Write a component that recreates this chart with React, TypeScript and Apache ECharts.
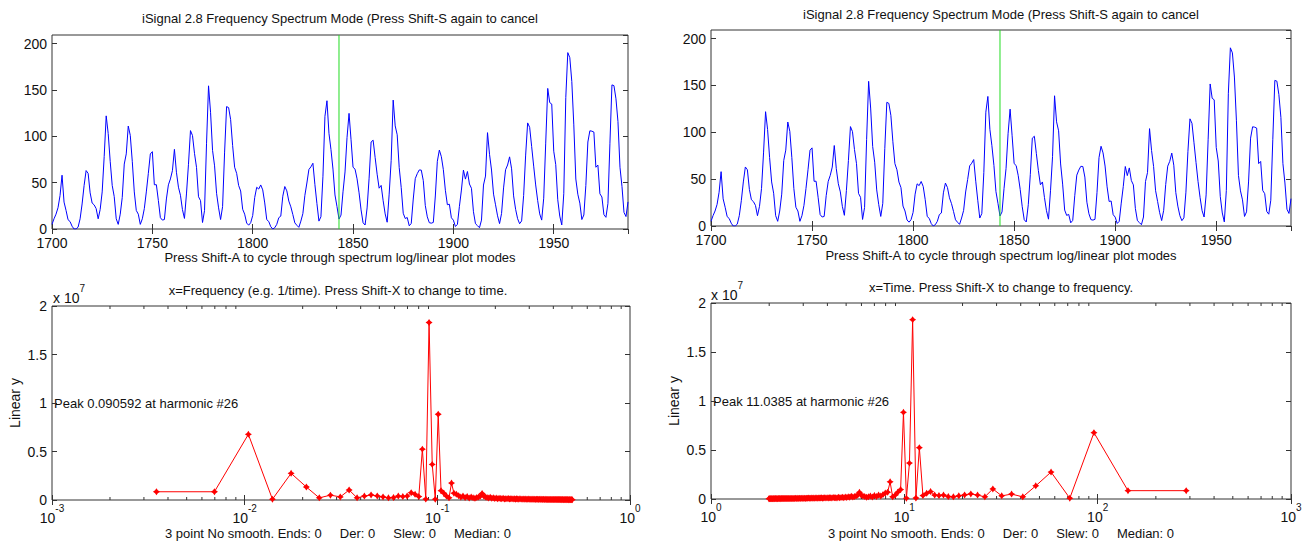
import React, { useEffect, useRef } from "react";
import * as echarts from "echarts";

// ---- data ----
const START_YEAR = 1700;
const SUNSPOTS: number[] = [
  5, 11, 16, 23, 36, 58, 29, 20, 10, 8,
  3, 0, 0, 2, 11, 27, 47, 63, 60, 39,
  28, 26, 22, 11, 21, 40, 78, 122, 103, 73,
  47, 35, 11, 5, 16, 34, 70, 81, 111, 101,
  73, 40, 20, 16, 5, 11, 22, 40, 60, 80.9,
  83.4, 47.7, 47.8, 30.7, 12.2, 9.6, 10.2, 32.4, 47.6, 54,
  62.9, 85.9, 61.2, 45.1, 36.4, 20.9, 11.4, 37.8, 69.8, 106.1,
  100.8, 81.6, 66.5, 34.8, 30.6, 7, 19.8, 92.5, 154.4, 125.9,
  84.8, 68.1, 38.5, 22.8, 10.2, 24.1, 82.9, 132, 130.9, 118.1,
  89.9, 66.6, 60, 46.9, 41, 21.3, 16, 6.4, 4.1, 6.8,
  14.5, 34, 45, 43.1, 47.5, 42.2, 28.1, 10.1, 8.1, 2.5,
  0, 1.4, 5, 12.2, 13.9, 35.4, 45.8, 41.1, 30.1, 23.9,
  15.6, 6.6, 4, 1.8, 8.5, 16.6, 36.3, 49.6, 64.2, 67,
  70.9, 47.8, 27.5, 8.5, 13.2, 56.9, 121.5, 138.3, 103.2, 85.7,
  64.6, 36.7, 24.2, 10.7, 15, 40.1, 61.5, 98.5, 124.7, 96.3,
  66.6, 64.5, 54.1, 39, 20.6, 6.7, 4.3, 22.7, 54.8, 93.8,
  95.8, 77.2, 59.1, 44, 47, 30.5, 16.3, 7.3, 37.6, 74,
  139, 111.2, 101.6, 66.2, 44.7, 17, 11.3, 12.4, 3.4, 6,
  32.3, 54.3, 59.7, 63.7, 63.5, 52.2, 25.4, 13.1, 6.8, 6.3,
  7.1, 35.6, 73, 85.1, 78, 64, 41.8, 26.2, 26.7, 12.1,
  9.5, 2.7, 5, 24.4, 42, 63.5, 53.8, 62, 48.5, 43.9,
  18.6, 5.7, 3.6, 1.4, 9.6, 47.4, 57.1, 103.9, 80.6, 63.6,
  37.6, 26.1, 14.2, 5.8, 16.7, 44.3, 63.9, 69, 77.8, 64.9,
  35.7, 21.2, 11.1, 5.7, 8.7, 36.1, 79.7, 114.4, 109.6, 88.8,
  67.8, 47.5, 30.6, 16.3, 9.6, 33.2, 92.6, 151.6, 136.3, 134.7,
  83.9, 69.4, 31.5, 13.9, 4.4, 38, 141.7, 190.2, 184.8, 159,
  112.3, 53.9, 37.5, 27.9, 10.2, 15.1, 47, 93.8, 105.9, 105.5,
  104.5, 66.6, 68.9, 38, 34.5, 15.5, 12.6, 27.5, 92.5, 155.4,
  154.6, 140.4, 115.9, 66.6, 45.9, 17.9, 13.4, 29.2,
];
const CURSOR_YEAR = 1843;
const RECORD_SPAN = 287; // years spanned by the record

// power spectrum (units of 1e7), harmonics 1..144
const POWER: number[] = [
  0.085, 0.085, 0.677, 0.008, 0.275, 0.134, 0.022, 0.05, 0.032, 0.103,
  0.022, 0.04, 0.052, 0.042, 0.032, 0.022, 0.025, 0.04, 0.035, 0.04,
  0.076, 0.058, 0.035, 0.524, 0.01, 1.83, 0.367, 0.008, 0.884, 0.096,
  0.07, 0.04, 0.022, 0.175, 0.07, 0.06, 0.045, 0.03, 0.04, 0.025,
  0.035, 0.02, 0.03, 0.022, 0.018, 0.025, 0.03, 0.04, 0.068, 0.04,
  0.03, 0.025, 0.02, 0.028, 0.018, 0.022, 0.015, 0.02, 0.012, 0.018,
  0.015, 0.012, 0.018, 0.01, 0.014, 0.012, 0.016, 0.01, 0.012, 0.014,
  0.01, 0.012, 0.009, 0.013, 0.011, 0.008, 0.012, 0.01, 0.009, 0.011,
  0.008, 0.01, 0.009, 0.007, 0.01, 0.008, 0.009, 0.007, 0.008, 0.009,
  0.007, 0.008, 0.006, 0.008, 0.007, 0.006, 0.008, 0.007, 0.006, 0.007,
  0.006, 0.007, 0.005, 0.006, 0.007, 0.005, 0.006, 0.005, 0.006, 0.005,
  0.006, 0.005, 0.004, 0.006, 0.005, 0.004, 0.005, 0.006, 0.004, 0.005,
  0.004, 0.005, 0.004, 0.005, 0.004, 0.003, 0.005, 0.004, 0.004, 0.003,
  0.004, 0.003, 0.004, 0.004, 0.003, 0.004, 0.003, 0.003, 0.004, 0.003,
  0.003, 0.004, 0.003, 0.003,
];

const FREQ_MINOR_TICKS = [
  0.002, 0.003, 0.004, 0.005, 0.006, 0.007, 0.008, 0.009,
  0.02, 0.03, 0.04, 0.05, 0.06, 0.07, 0.08, 0.09,
  0.2, 0.3, 0.4, 0.5, 0.6, 0.7, 0.8, 0.9,
];
const TIME_MINOR_TICKS = [
  2, 3, 4, 5, 6, 7, 8, 9,
  20, 30, 40, 50, 60, 70, 80, 90,
  200, 300, 400, 500, 600, 700, 800, 900,
];

const TITLE_TOP = "iSignal 2.8 Frequency Spectrum Mode (Press Shift-S again to cancel";
const XLABEL_TOP = "Press Shift-A to cycle through spectrum log/linear plot modes";
const TITLE_FREQ = "x=Frequency (e.g. 1/time). Press Shift-X to change to time.";
const TITLE_TIME = "x=Time. Press Shift-X to change to frequency.";
const XLABEL_BOTTOM = "3 point No smooth. Ends: 0     Der: 0     Slew: 0     Median: 0";
const PEAK_FREQ = "Peak 0.090592 at harmonic #26";
const PEAK_TIME = "Peak 11.0385 at harmonic #26";

const FONT = "'Liberation Sans', Arial, Helvetica, sans-serif";
const TXT = "#111";
const FRAME = "#333";

const GRIDS = [
  { left: 52, top: 35, width: 576, height: 194 },
  { left: 711, top: 30, width: 580, height: 196 },
  { left: 52, top: 306, width: 578, height: 194 },
  { left: 711, top: 303, width: 580, height: 196 },
];

function supRich() {
  return {
    b: { fontSize: 14, fontFamily: FONT, color: TXT, verticalAlign: "bottom", lineHeight: 22 },
    s: { fontSize: 10, fontFamily: FONT, color: TXT, verticalAlign: "top", lineHeight: 22 },
  };
}

function App() {
  const ref = useRef<HTMLDivElement>(null);
  useEffect(() => {
    if (!ref.current) return;
    const chart = echarts.init(ref.current, undefined, { renderer: "svg" });

    const spotData = SUNSPOTS.map((v, i) => [START_YEAR + i, v]);
    const cursorData = [[CURSOR_YEAR, 0], [CURSOR_YEAR, 209.2]];
    const freqData = POWER.map((p, i) => [(i + 1) / RECORD_SPAN, p]);
    const timeData = POWER.map((p, i) => [RECORD_SPAN / (i + 1), p]);

    const tick = { show: true, inside: true, length: 5, lineStyle: { color: FRAME } };
    const noLine = { show: false };
    const lbl = (extra: any = {}) => ({
      fontSize: 14, fontFamily: FONT, color: TXT, ...extra,
    });

    const yearAxis = (grid: number, top: boolean) => ({
      gridIndex: grid, type: "value", min: 1700, max: 1987, interval: 50,
      position: top ? "top" : "bottom",
      axisLine: noLine, axisTick: tick, splitLine: { show: false },
      axisLabel: top ? { show: false } : lbl({ margin: 7, showMaxLabel: false, formatter: (v: number) => (v % 50 === 0 ? String(v) : "") }),
    });
    const spotYAxis = (grid: number, right: boolean) => ({
      gridIndex: grid, type: "value", min: 0, max: 209.2, interval: 50,
      position: right ? "right" : "left",
      axisLine: noLine, axisTick: tick, splitLine: { show: false },
      axisLabel: right ? { show: false } : lbl({ margin: 5, showMaxLabel: false, formatter: (v: number) => (v % 50 === 0 ? String(v) : "") }),
    });
    const logAxis = (grid: number, top: boolean, min: number, max: number) => ({
      gridIndex: grid, type: "log", logBase: 10, min, max,
      position: top ? "top" : "bottom",
      axisLine: noLine, axisTick: tick, splitLine: { show: false }, minorTick: { show: false },
      axisLabel: top ? { show: false } : {
        margin: 3,
        formatter: (v: number) => `{b|10}{s|${Math.round(Math.log10(v))}}`,
        rich: supRich(),
      },
    });
    const powYAxis = (grid: number, right: boolean) => ({
      gridIndex: grid, type: "value", min: 0, max: 2, interval: 0.5,
      position: right ? "right" : "left",
      axisLine: noLine, axisTick: tick, splitLine: { show: false },
      axisLabel: right ? { show: false } : lbl({ margin: 5 }),
    });

    const minorRender = (params: any, api: any) => {
      const x = api.coord([api.value(0), 1])[0];
      const cs = params.coordSys;
      const len = 3;
      return {
        type: "group",
        children: [
          { type: "line", shape: { x1: x, y1: cs.y + cs.height, x2: x, y2: cs.y + cs.height - len }, style: { stroke: FRAME, lineWidth: 1 } },
          { type: "line", shape: { x1: x, y1: cs.y, x2: x, y2: cs.y + len }, style: { stroke: FRAME, lineWidth: 1 } },
        ],
      };
    };

    const star = "path://M0,-10 L4,-4 L10,0 L4,4 L0,10 L-4,4 L-10,0 L-4,-4 Z";

    const spotSeries = (xi: number, yi: number) => ({
      type: "line", xAxisIndex: xi, yAxisIndex: yi, data: spotData,
      showSymbol: false, symbol: "none", z: 2,
      lineStyle: { color: "#0000ff", width: 1 }, itemStyle: { color: "#0000ff" },
    });
    const cursorSeries = (xi: number, yi: number) => ({
      type: "line", xAxisIndex: xi, yAxisIndex: yi, data: cursorData,
      showSymbol: false, symbol: "none", z: 3,
      lineStyle: { color: "#22dd22", width: 1 }, itemStyle: { color: "#22dd22" },
    });
    const powSeries = (xi: number, yi: number, data: number[][]) => ({
      type: "line", xAxisIndex: xi, yAxisIndex: yi, data,
      symbol: star, symbolSize: 7, showSymbol: true,
      lineStyle: { color: "#ff0000", width: 1 }, itemStyle: { color: "#ff0000" },
    });

    const text = (x: number, y: number, t: string, extra: any = {}) => ({
      type: "text", x, y, silent: true,
      style: {
        text: t, fontSize: 13, fontFamily: FONT, fill: TXT,
        textAlign: "center", textVerticalAlign: "middle", ...extra,
      },
    });

    chart.setOption({
      animation: false,
      backgroundColor: "#ffffff",
      grid: GRIDS.map((g) => ({ ...g, show: true, borderColor: FRAME, borderWidth: 1, backgroundColor: "transparent", containLabel: false })),
      xAxis: [
        yearAxis(0, false), yearAxis(0, true),
        yearAxis(1, false), yearAxis(1, true),
        logAxis(2, false, 0.001, 1), logAxis(2, true, 0.001, 1),
        logAxis(3, false, 1, 1000), logAxis(3, true, 1, 1000),
      ],
      yAxis: [
        spotYAxis(0, false), spotYAxis(0, true),
        spotYAxis(1, false), spotYAxis(1, true),
        powYAxis(2, false), powYAxis(2, true),
        powYAxis(3, false), powYAxis(3, true),
      ],
      series: [
        spotSeries(0, 0),
        cursorSeries(0, 0),
        spotSeries(2, 2),
        cursorSeries(2, 2),
        powSeries(4, 4, freqData),
        powSeries(6, 6, timeData),
        { type: "custom", xAxisIndex: 4, yAxisIndex: 4, silent: true, clip: false, renderItem: minorRender, data: FREQ_MINOR_TICKS.map((v) => [v, 0]) },
        { type: "custom", xAxisIndex: 6, yAxisIndex: 6, silent: true, clip: false, renderItem: minorRender, data: TIME_MINOR_TICKS.map((v) => [v, 0]) },
      ],
      graphic: [
        text(340, 18, TITLE_TOP),
        text(1001, 14, TITLE_TOP),
        text(340, 257, XLABEL_TOP),
        text(1001, 255, XLABEL_TOP),
        text(338, 290, TITLE_FREQ),
        text(1001, 287, TITLE_TIME),
        text(338, 533, XLABEL_BOTTOM),
        text(1001, 533, XLABEL_BOTTOM),
        { ...text(15, 403, "Linear y", { fontSize: 14 }), rotation: Math.PI / 2 },
        { ...text(674, 401, "Linear y", { fontSize: 14 }), rotation: Math.PI / 2 },
        text(53, 294, "{b|x 10}{s|7}", { textAlign: "left", rich: supRich() }),
        text(711, 291, "{b|x 10}{s|7}", { textAlign: "left", rich: supRich() }),
        text(54, 403, PEAK_FREQ, { textAlign: "left", fontSize: 13 }),
        text(713, 401, PEAK_TIME, { textAlign: "left", fontSize: 13 }),
      ],
    });
    return () => chart.dispose();
  }, []);
  return (
    <div
      ref={ref}
      style={{ position: "absolute", left: 0, top: 0, width: 1309, height: 544, background: "#fff" }}
    />
  );
}

export default App;
